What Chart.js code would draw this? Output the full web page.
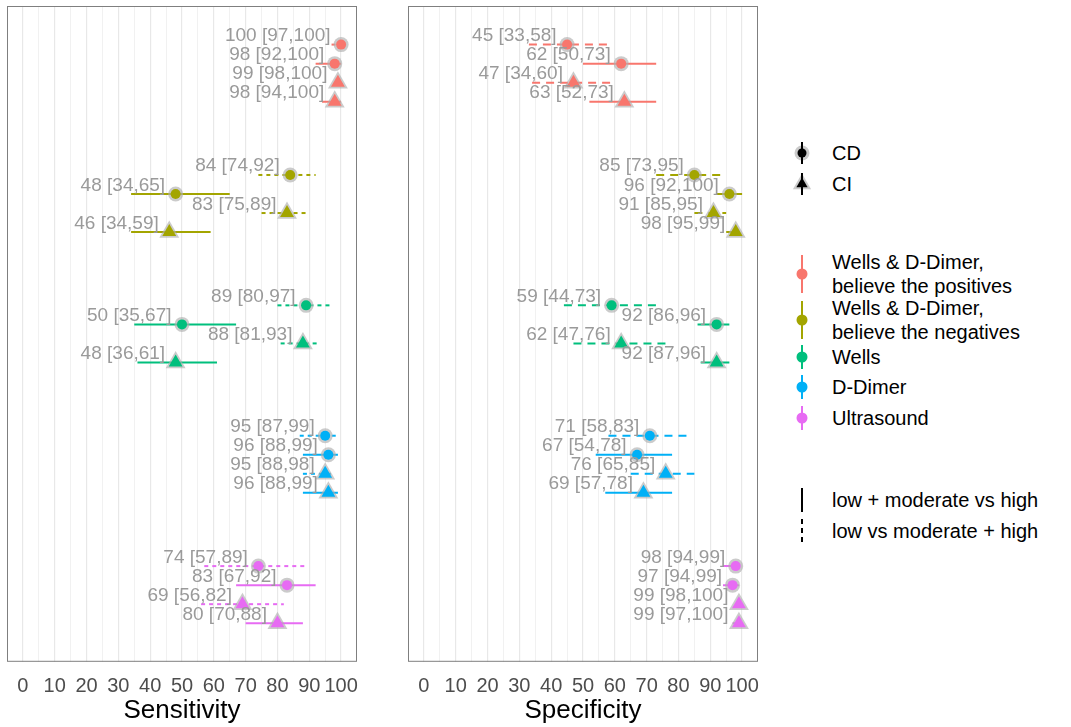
<!DOCTYPE html>
<html>
<head>
<meta charset="utf-8">
<script src="https://cdn.jsdelivr.net/npm/chart.js@4.4.1/dist/chart.umd.min.js"></script>
<style>
  html, body { margin: 0; padding: 0; background: #fff; }
  body { width: 1071px; height: 727px; position: relative; overflow: hidden;
         font-family: "Liberation Sans", Arial, sans-serif; }
  .panel { position: absolute; top: 0; width: 365px; height: 727px; }
  .lg { position: absolute; font-size: 20px; line-height: 24px; color: #000; white-space: nowrap; }
  .ic { position: absolute; }
</style>
</head>
<body>
<div class="panel" style="left:0"><canvas id="sens" width="365" height="727"></canvas></div>
<div class="panel" style="left:400px"><canvas id="spec" width="365" height="727"></canvas></div>
<div id="legend"></div>

<script>
(() => {
    'use strict';

    // ===== Datos =====
    // filas dentro de cada test: CD (low vs mod+high), CD (low+mod vs high), CI (...), CI (...)
    const tests = ['Wells & D-Dimer,\nbelieve the positives', 'Wells & D-Dimer,\nbelieve the negatives', 'Wells', 'D-Dimer', 'Ultrasound'];
    const rowShape = ['CD', 'CD', 'CI', 'CI'];
    const rowStrat = ['low vs moderate + high', 'low + moderate vs high', 'low vs moderate + high', 'low + moderate vs high'];

    const sensEst = [[100, 98, 99, 98], [84, 48, 83, 46], [89, 50, 88, 48], [95, 96, 95, 96], [74, 83, 69, 80]];
    const sensLo  = [[97, 92, 98, 94],  [74, 34, 75, 34], [80, 35, 81, 36], [87, 88, 88, 88], [57, 67, 56, 70]];
    const sensHi  = [[100, 100, 100, 100], [92, 65, 89, 59], [97, 67, 93, 61], [99, 99, 98, 99], [89, 92, 82, 88]];

    const specEst = [[45, 62, 47, 63], [85, 96, 91, 98], [59, 92, 62, 92], [71, 67, 76, 69], [98, 97, 99, 99]];
    const specLo  = [[33, 50, 34, 52], [73, 92, 85, 95], [44, 86, 47, 87], [58, 54, 65, 57], [94, 94, 98, 97]];
    const specHi  = [[58, 73, 60, 73], [95, 100, 95, 99], [73, 96, 76, 96], [83, 78, 85, 78], [99, 99, 100, 100]];

    const xTicks = [0, 10, 20, 30, 40, 50, 60, 70, 80, 90, 100];

    // ===== Estilo =====
    const colours = ['#F8766D', '#A3A500', '#00BF7D', '#00B0F6', '#E76BF3'];
    const dodge = [-0.219, -0.073, 0.073, 0.219];
    const FONT = '"Liberation Sans", Arial, sans-serif';
    const HALO = 'rgba(175,175,175,0.65)';

    const isDashed = (s) => s === 'low vs moderate + high';

    function buildDatasets(est, lo, hi, dash) {
        const ds = [];
        tests.forEach((t, g) => {
            rowShape.forEach((shape, r) => {
                const y = g + 1 + dodge[r];
                const tri = shape === 'CI';
                ds.push({
                    data: [{ x: lo[g][r], y }, { x: hi[g][r], y }],
                    showLine: true, borderColor: colours[g], borderWidth: 2,
                    borderDash: isDashed(rowStrat[r]) ? dash : [],
                    pointRadius: 0, order: 3
                });
                ds.push({
                    data: [{ x: est[g][r], y }],
                    pointStyle: tri ? 'triangle' : 'circle',
                    pointRadius: tri ? 11.5 : 7.5, backgroundColor: HALO, borderWidth: 0, order: 2
                });
                ds.push({
                    data: [{ x: est[g][r], y, lab: `${est[g][r]} [${lo[g][r]},${hi[g][r]}]` }],
                    pointStyle: tri ? 'triangle' : 'circle',
                    pointRadius: tri ? 8 : 5, backgroundColor: colours[g], borderWidth: 0, order: 1,
                    isLabel: true
                });
            });
        });
        return ds;
    }

    const labelPlugin = {
        id: 'ptLabels',
        afterDatasetsDraw(chart) {
            const { ctx } = chart;
            const xs = chart.scales.x, ys = chart.scales.y;
            ctx.save();
            ctx.font = '19px ' + FONT;
            ctx.fillStyle = '#9a9a9a';
            ctx.textAlign = 'right';
            ctx.textBaseline = 'alphabetic';
            chart.data.datasets.forEach(d => {
                if (!d.isLabel) return;
                const p = d.data[0];
                ctx.fillText(p.lab, xs.getPixelForValue(p.x) - 10.5, ys.getPixelForValue(p.y) - 3.5);
            });
            ctx.restore();
        },
        afterDraw(chart) {
            const a = chart.chartArea, ctx = chart.ctx;
            ctx.save();
            ctx.strokeStyle = '#7f7f7f';
            ctx.lineWidth = 1;
            ctx.strokeRect(a.left + 0.5, a.top + 0.5, a.right - a.left - 1, a.bottom - a.top - 1);
            ctx.restore();
        }
    };

    function makeChart(id, title, est, lo, hi, dash, pad) {
        return new Chart(document.getElementById(id).getContext('2d'), {
            type: 'scatter',
            data: { datasets: buildDatasets(est, lo, hi, dash) },
            options: {
                responsive: false, animation: false, devicePixelRatio: 1,
                layout: { padding: pad, autoPadding: false },
                plugins: { legend: { display: false }, tooltip: { enabled: false } },
                scales: {
                    x: {
                        min: -5, max: 105,
                        border: { display: false },
                        grid: {
                            drawTicks: true, tickLength: 13, tickColor: 'transparent',
                            color: c => (c.tick.value < 0 || c.tick.value > 100) ? 'transparent'
                                : (c.tick.value % 10 === 0 ? '#e8e8e8' : '#f1f1f1'),
                            lineWidth: c => (c.tick.value % 10 === 0 ? 1.2 : 1)
                        },
                        ticks: {
                            stepSize: 5, autoSkip: false, maxRotation: 0, padding: 0,
                            color: '#4d4d4d', font: { size: 20, family: FONT },
                            callback: v => xTicks.includes(v) ? String(v) : ''
                        },
                        title: { display: true, text: title, color: '#000',
                                 font: { size: 26, family: FONT }, padding: { top: -4, bottom: 0 } }
                    },
                    y: { display: false, reverse: true, min: 0.485, max: 5.515 }
                }
            },
            plugins: [labelPlugin]
        });
    }

    makeChart('sens', 'Sensitivity', sensEst, sensLo, sensHi, [4, 4], { left: 7, right: 8, top: 6, bottom: 1 });
    makeChart('spec', 'Specificity', specEst, specLo, specHi, [8, 6], { left: 8, right: 7, top: 6, bottom: 1 });

    // ===== Leyenda (HTML) =====
    const legend = document.getElementById('legend');
    const ICX = 802, TX = 832;
    function svgIcon(cy, h, inner) {
        const s = document.createElementNS('http://www.w3.org/2000/svg', 'svg');
        s.setAttribute('width', 30); s.setAttribute('height', h);
        s.setAttribute('class', 'ic');
        s.style.left = (ICX - 15) + 'px';
        s.style.top = (cy - h / 2) + 'px';
        s.innerHTML = inner;
        legend.appendChild(s);
    }
    function text(lines, cy) {
        const d = document.createElement('div');
        d.className = 'lg';
        d.style.left = TX + 'px';
        d.style.top = (cy - lines.length * 12) + 'px';
        d.innerHTML = lines.map(l => l.replace(/&/g, '&amp;')).join('<br>');
        legend.appendChild(d);
    }
    const tri = (cx, cy, r) => {
        const p = [0, 1, 2].map(i => {
            const a = i * 2 * Math.PI / 3;
            return (cx + Math.sin(a) * r).toFixed(2) + ',' + (cy - Math.cos(a) * r).toFixed(2);
        });
        return p.join(' ');
    };

    // forma
    const shapes = ['CD', 'CI'];
    const shapeY = [153, 184];
    shapes.forEach((s, i) => {
        const h = 26, c = h / 2;
        const mark = s === 'CI'
            ? `<polygon points="${tri(15, c, 10.5)}" fill="${HALO}"/><polygon points="${tri(15, c, 6.5)}" fill="#000"/>`
            : `<circle cx="15" cy="${c}" r="7.5" fill="${HALO}"/><circle cx="15" cy="${c}" r="4.5" fill="#000"/>`;
        svgIcon(shapeY[i], h, `${mark}<line x1="15" x2="15" y1="2" y2="${h - 2}" stroke="#000" stroke-width="2"/>`);
        text([s], shapeY[i]);
    });

    // color
    const testY = [274, 320, 357, 387, 418];
    tests.forEach((t, g) => {
        const lines = t.split('\n');
        const h = lines.length > 1 ? 38 : 24, c = h / 2;
        svgIcon(testY[g], h, `<line x1="15" x2="15" y1="0" y2="${h}" stroke="${colours[g]}" stroke-width="2"/>` +
            `<circle cx="15" cy="${c}" r="5.5" fill="${colours[g]}"/>`);
        text(lines, testY[g]);
    });

    // tipo de linea
    const strats = ['low + moderate vs high', 'low vs moderate + high'];
    const stratY = [500, 531];
    strats.forEach((s, i) => {
        const dash = isDashed(s) ? ' stroke-dasharray="5,4"' : '';
        svgIcon(stratY[i], 24, `<line x1="15" x2="15" y1="0" y2="24" stroke="#000" stroke-width="2"${dash}/>`);
        text([s], stratY[i]);
    });
})();
</script>
</body>
</html>
